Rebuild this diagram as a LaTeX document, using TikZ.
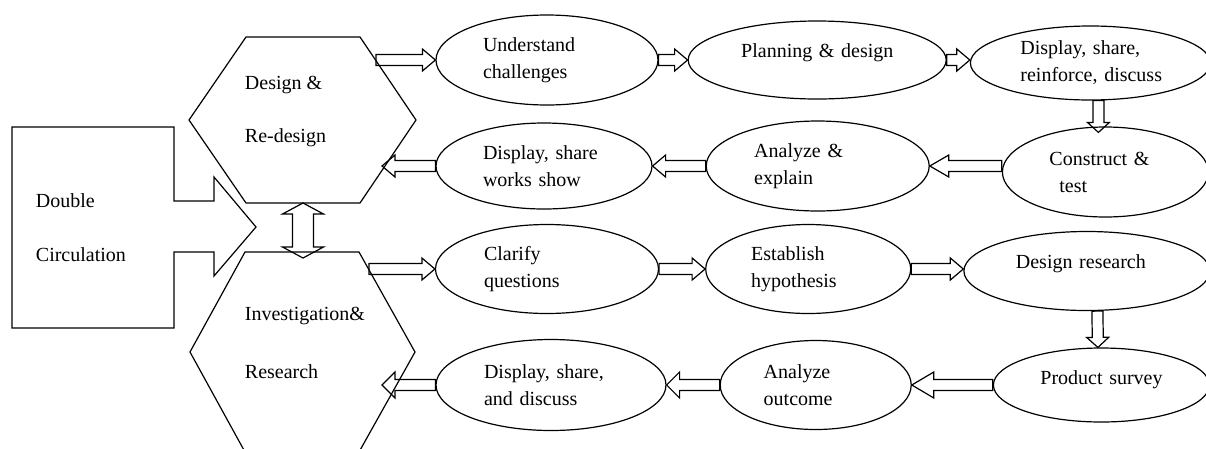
\documentclass[tikz,border=0pt]{standalone}
\usepackage{fontspec}
\setmainfont{Liberation Serif}
\usetikzlibrary{positioning, shapes.geometric, calc}

\tikzset{
  shaft/.store in=\shaftw, headw/.store in=\headw, headl/.store in=\headl,
  shaft=5.5pt, headw=11pt, headl=13pt,
  stage/.style={draw, ellipse, inner sep=0pt, align=left},
  hexlabel/.style={anchor=west, align=left},
  % outlined block arrow from start to target
  hollow/.style={to path={let \p1=(\tikztostart), \p2=(\tikztotarget),
      \n1={atan2(\y2-(\y1),\x2-(\x1))} in
      ($(\p1)+(\n1+90:\shaftw)$) -- ($(\p2)+(\n1+180:\headl)+(\n1+90:\shaftw)$)
      -- ($(\p2)+(\n1+180:\headl)+(\n1+90:\headw)$) -- (\p2)
      -- ($(\p2)+(\n1+180:\headl)+(\n1-90:\headw)$)
      -- ($(\p2)+(\n1+180:\headl)+(\n1-90:\shaftw)$)
      -- ($(\p1)+(\n1-90:\shaftw)$) -- cycle}},
  % same, with a head at both ends
  twoway/.style={to path={let \p1=(\tikztostart), \p2=(\tikztotarget),
      \n1={atan2(\y2-(\y1),\x2-(\x1))} in
      (\p1) -- ($(\p1)+(\n1:\headl)+(\n1+90:\headw)$)
      -- ($(\p1)+(\n1:\headl)+(\n1+90:\shaftw)$)
      -- ($(\p2)+(\n1+180:\headl)+(\n1+90:\shaftw)$)
      -- ($(\p2)+(\n1+180:\headl)+(\n1+90:\headw)$) -- (\p2)
      -- ($(\p2)+(\n1+180:\headl)+(\n1-90:\headw)$)
      -- ($(\p2)+(\n1+180:\headl)+(\n1-90:\shaftw)$)
      -- ($(\p1)+(\n1:\headl)+(\n1-90:\shaftw)$)
      -- ($(\p1)+(\n1:\headl)+(\n1-90:\headw)$) -- cycle}}
}

\begin{document}
\begin{tikzpicture}[x=1pt, y=-1pt, line width=1.2pt, font=\fontsize{20}{27}\selectfont]
\useasboundingbox (0,0) rectangle (1206,448);

% Double circulation block
\draw (12,127) -- (174,127) -- (174,201) -- (214,201) -- (214,177) -- (256,227)
  -- (214,276) -- (214,252) -- (174,252) -- (174,328) -- (12,328) -- cycle;
\node[hexlabel] (dbl) at (32,228) {Double\\[27pt]Circulation};

% Hexagons
\draw (246,37) -- (360,37) -- (416,120) -- (360,203) -- (246,203) -- (189,120) -- cycle;
\node[hexlabel] (dsgn) at (241,112) {Design \&\\[26pt]Re-design};
\draw (245,252) -- (359,252) -- (415,352) -- (359,452) -- (245,452) -- (190,352) -- cycle;
\node[hexlabel] (inv) at (241,343) {Investigation\&\\[31pt]Research};

\coordinate (dsgn-out) at (376,60);
\coordinate (dsgn-in) at (382,166);
\coordinate (dsgn-s) at (303,203);
\coordinate (inv-n) at (303,258);
\coordinate (inv-out) at (369,269);
\coordinate (inv-in) at (382,385);

% Design loop
\node[stage, minimum width=222pt, minimum height=90pt, text width=128pt] (uc) at (547,60) {Understand\\challenges};
\node[stage, right=29pt of uc, minimum width=258pt, minimum height=78pt, text width=152pt, text depth=18pt] (pd) {\mbox{Planning \& design}};
\node[stage, right=23pt of pd, yshift=-3pt, minimum width=240pt, minimum height=74pt, text width=140pt] (dr) {\mbox{Display, share,}\\\mbox{reinforce, discuss}};
\node[stage, minimum width=216pt, minimum height=86pt, text width=122pt] (dw) at (544,166) {Display, share\\works show};
\node[stage, right=53pt of dw, minimum width=223pt, minimum height=90pt, text width=127pt] (an) {Analyze \&\\explain};
\node[stage, right=72pt of an, yshift=-6pt, minimum width=206pt, minimum height=90pt, text width=112pt] (ct) {Construct \&\\\hspace*{10pt}test};

% Research loop
\node[stage, minimum width=223pt, minimum height=89pt, text width=126pt] (cq) at (547,269) {Clarify\\questions};
\node[stage, right=46pt of cq, minimum width=205pt, minimum height=89pt, text width=114pt] (eh) {Establish\\hypothesis};
\node[stage, right=52pt of eh, yshift=-2pt, minimum width=246pt, minimum height=79pt, text width=142pt, text depth=18pt] (drs) {\mbox{Design research}};
\node[stage, minimum width=230pt, minimum height=91pt, text width=134pt] (dd) at (551,385) {Display, share,\\and discuss};
\node[stage, right=53pt of dd, minimum width=191pt, minimum height=89pt, text width=104pt] (ao) {Analyze\\outcome};
\node[stage, right=81pt of ao, minimum width=216pt, minimum height=74pt, text width=122pt, text depth=14pt] (ps) {\mbox{Product survey}};

% Arrows design loop
\draw[hollow] (dsgn-out) to (uc.west);
\draw[hollow] (uc.east) to (pd.west);
\draw[hollow] (pd.east) to (pd.east -| dr.west);
\draw[hollow, headl=10pt] ([xshift=8pt]dr.south) to ([xshift=-7pt, yshift=-6pt]ct.north);
\draw[hollow, headl=19pt] (ct.west |- an.east) to (an.east);
\draw[hollow] (an.west) to (dw.east);
\draw[hollow] (dw.west) to (dsgn-in);

% Arrows research loop
\draw[hollow] (inv-out) to (cq.west);
\draw[hollow] (cq.east) to (eh.west);
\draw[hollow] (eh.east) to (eh.east -| drs.west);
\draw[hollow, headl=10pt] ([xshift=10.5pt]drs.south) to ([xshift=-3.5pt]ps.north);
\draw[hollow, headl=22pt, headw=13pt] (ps.west) to (ao.east);
\draw[hollow, headw=13pt] (ao.west) to (dd.east);
\draw[hollow, headw=13pt] (dd.west) to (inv-in);

% Between the hexagons
\draw[twoway, shaft=10.5pt, headw=20.5pt, headl=11pt] (dsgn-s) to (inv-n);
\end{tikzpicture}
\end{document}
